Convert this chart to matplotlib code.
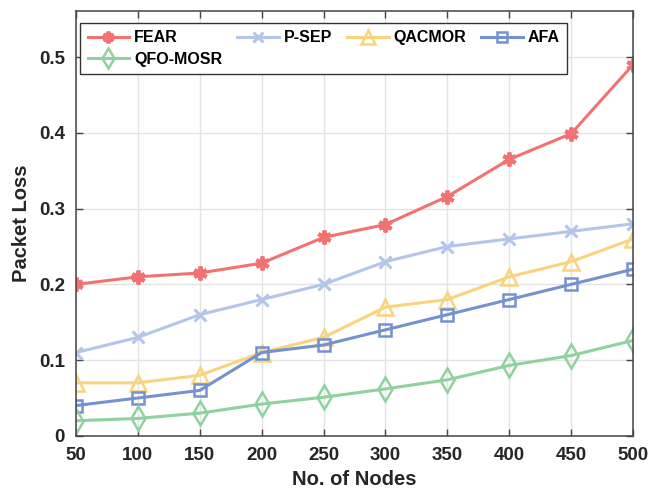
import matplotlib
matplotlib.use("Agg")
import matplotlib.pyplot as plt

plt.rcParams['font.family'] = ['Liberation Sans', 'DejaVu Sans']

nodes = [50, 100, 150, 200, 250, 300, 350, 400, 450, 500]
x_ticks = [50, 100, 150, 200, 250, 300, 350, 400, 450, 500]
y_ticks = [0, 0.1, 0.2, 0.3, 0.4, 0.5]
y_tick_labels = ['0', '0.1', '0.2', '0.3', '0.4', '0.5']

fear = [0.200, 0.210, 0.215, 0.228, 0.262, 0.279, 0.316, 0.365, 0.399, 0.490]
psep = [0.110, 0.130, 0.160, 0.180, 0.200, 0.230, 0.250, 0.260, 0.270, 0.280]
qacmor = [0.070, 0.070, 0.080, 0.110, 0.130, 0.170, 0.180, 0.210, 0.230, 0.260]
afa = [0.040, 0.050, 0.060, 0.110, 0.120, 0.140, 0.160, 0.180, 0.200, 0.220]
qfo = [0.020, 0.023, 0.030, 0.042, 0.051, 0.062, 0.074, 0.093, 0.106, 0.126]

fig = plt.figure(figsize=(6.51, 4.97), dpi=100)
ax = fig.add_axes([0.1167, 0.123, 0.8557, 0.855])

lw = 2.2
h_fear, = ax.plot(nodes, fear, color='#F27272', lw=lw, marker=(6, 2, 0), ms=10, mew=2.8, label='FEAR')
h_psep, = ax.plot(nodes, psep, color='#B3C6EA', lw=lw, marker='x', ms=8, mew=2.2, label='P-SEP')
h_qac, = ax.plot(nodes, qacmor, color='#F8D47E', lw=lw, marker='^', ms=12, mew=1.8, mfc='none', label='QACMOR')
h_afa, = ax.plot(nodes, afa, color='#7491D0', lw=lw, marker='s', ms=8, mew=1.8, mfc='none', label='AFA')
h_qfo, = ax.plot(nodes, qfo, color='#8FD19F', lw=lw, marker='d', ms=12, mew=1.8, mfc='none', label='QFO-MOSR')

ax.set_xlim(50, 500)
ax.set_ylim(0, 0.561)
ax.set_xticks(x_ticks)
ax.set_yticks(y_ticks)
ax.set_yticklabels(y_tick_labels)
ax.grid(True, color='#E3E3E3', lw=1)
ax.set_axisbelow(True)
ax.tick_params(direction='in', top=True, right=True, length=5, width=1, colors='#444444',
               labelcolor='#262626', labelsize=13.5, pad=8)
for lab in ax.get_xticklabels() + ax.get_yticklabels():
    lab.set_fontweight('bold')
for s in ax.spines.values():
    s.set_color('#444444')
    s.set_linewidth(1.1)

ax.set_xlabel('No. of Nodes', fontsize=14.5, fontweight='bold', color='#262626', labelpad=4)
ax.set_ylabel('Packet Loss', fontsize=14.5, fontweight='bold', color='#262626', labelpad=6)

handles = [h_fear, h_qfo, h_psep, h_qac, h_afa]
leg = ax.legend(handles=handles, labels=[h.get_label() for h in handles], ncol=4,
                loc='upper left', bbox_to_anchor=(0.008, 0.971), borderaxespad=0,
                prop={'weight': 'bold', 'size': 11.5}, frameon=True, fancybox=False,
                edgecolor='#333333', framealpha=1, handlelength=2.6, columnspacing=0.95,
                handletextpad=0.3, borderpad=0.45, labelspacing=0.4, markerscale=0.85)
leg.get_frame().set_linewidth(1.0)

fig.savefig('out.png', dpi=100)
